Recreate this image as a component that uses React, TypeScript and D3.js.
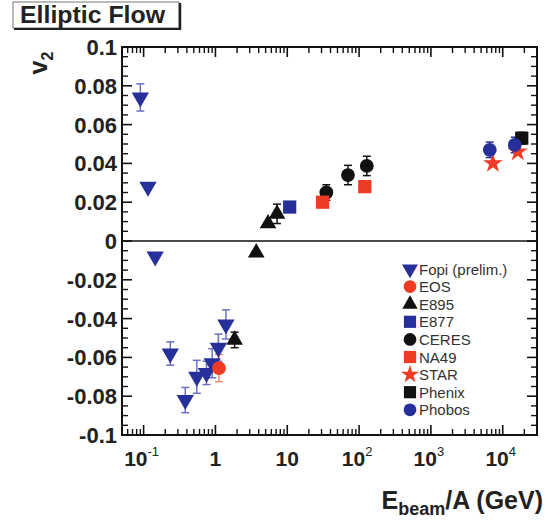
import React from "react";
import * as d3 from "d3";

// ---- data ----
const fopiE = [0.09, 0.115, 0.145, 0.235, 0.38, 0.55, 0.75, 0.9, 1.1, 1.4];
const fopiV = [0.074, 0.028, -0.008, -0.058, -0.082, -0.070, -0.068, -0.063, -0.055, -0.043];
const fopiErr = [0.007, 0, 0, 0.006, 0.0065, 0.0085, 0.006, 0.0075, 0.007, 0.0075];

const eosE = [1.12];
const eosV = [-0.0655];
const eosErr = [0.007];

const e895E = [1.85, 3.7, 5.4, 7.2];
const e895V = [-0.051, -0.006, 0.009, 0.014];
const e895Err = [0.004, 0, 0, 0.005];

const e877E = [10.8];
const e877V = [0.0175];
const e877Err = [0];

const ceresE = [35, 70, 128];
const ceresV = [0.025, 0.034, 0.0387];
const ceresErr = [0.004, 0.005, 0.005];

const na49E = [31, 120];
const na49V = [0.020, 0.028];
const na49Err = [0, 0];

const starE = [7300, 16200];
const starV = [0.040, 0.046];
const starErr = [0, 0];

const phenixE = [18400];
const phenixV = [0.053];
const phenixErr = [0.003];

const phobosE = [6600, 14700];
const phobosV = [0.047, 0.0495];
const phobosErr = [0.004, 0.004];

const legendLabels = ["Fopi (prelim.)", "EOS", "E895", "E877", "CERES", "NA49", "STAR", "Phenix", "Phobos"];
const yTickValues = [0.1, 0.08, 0.06, 0.04, 0.02, 0, -0.02, -0.04, -0.06, -0.08, -0.1];
const xDecades = [-1, 0, 1, 2, 3, 4];

const BLUE = "#27309a";
const RED = "#ef3a24";
const BLACK = "#111";
const ERRBLUE = "#6b70c4";

type Shape = "tdown" | "tup" | "circle" | "square" | "star";

export default function App() {
  const left = 122, right = 537, top = 47, bottom = 435;
  const x = d3.scaleLog().domain([0.05, 30000]).range([left, right]);
  const y = d3.scaleLinear().domain([-0.1, 0.1]).range([bottom, top]);

  const symPath = (shape: Shape, size: number) => {
    let t: any = d3.symbolCircle;
    if (shape === "tdown" || shape === "tup") t = d3.symbolTriangle;
    if (shape === "square") t = d3.symbolSquare;
    if (shape === "star") t = d3.symbolStar;
    return d3.symbol().type(t).size(size)() as string;
  };

  const shapeSize: Record<Shape, number> = { tdown: 130, tup: 120, circle: 150, square: 175, star: 120 };

  const series = [
    { name: "Fopi", E: fopiE, V: fopiV, err: fopiErr, shape: "tdown" as Shape, color: BLUE, ecol: ERRBLUE },
    { name: "E895", E: e895E, V: e895V, err: e895Err, shape: "tup" as Shape, color: BLACK, ecol: BLACK },
    { name: "EOS", E: eosE, V: eosV, err: eosErr, shape: "circle" as Shape, color: RED, ecol: "#f08a70" },
    { name: "E877", E: e877E, V: e877V, err: e877Err, shape: "square" as Shape, color: BLUE, ecol: BLUE },
    { name: "CERES", E: ceresE, V: ceresV, err: ceresErr, shape: "circle" as Shape, color: BLACK, ecol: BLACK },
    { name: "NA49", E: na49E, V: na49V, err: na49Err, shape: "square" as Shape, color: RED, ecol: RED },
    { name: "Phenix", E: phenixE, V: phenixV, err: phenixErr, shape: "square" as Shape, color: BLACK, ecol: BLACK },
    { name: "STAR", E: starE, V: starV, err: starErr, shape: "star" as Shape, color: RED, ecol: RED },
    { name: "Phobos", E: phobosE, V: phobosV, err: phobosErr, shape: "circle" as Shape, color: BLUE, ecol: BLUE },
  ];

  const legendShapes: { shape: Shape; color: string }[] = [
    { shape: "tdown", color: BLUE },
    { shape: "circle", color: RED },
    { shape: "tup", color: BLACK },
    { shape: "square", color: BLUE },
    { shape: "circle", color: BLACK },
    { shape: "square", color: RED },
    { shape: "star", color: RED },
    { shape: "square", color: BLACK },
    { shape: "circle", color: BLUE },
  ];

  const renderMarker = (shape: Shape, color: string, cx: number, cy: number, key: any, scale = 1) => (
    <path
      key={key}
      d={symPath(shape, shapeSize[shape] * scale)}
      transform={`translate(${cx},${cy})${shape === "tdown" ? " rotate(180)" : ""}`}
      fill={color}
    />
  );

  // ticks
  const xMinor: number[] = [];
  for (let d = -2; d <= 4; d++) {
    for (let m = 2; m <= 9; m++) {
      const v = m * Math.pow(10, d);
      if (v >= 0.05 && v <= 30000) xMinor.push(v);
    }
  }
  const yMinor = d3.range(-0.1, 0.1001, 0.005).filter((v) => Math.abs(Math.round(v * 1000) % 20) !== 0);

  const font = "'Liberation Sans', Arial, Helvetica, sans-serif";

  return (
    <svg width={546} height={521} style={{ position: "absolute", left: 0, top: 0, background: "#fff" }} fontFamily={font}>
      {/* title box */}
      <rect x={13} y={2} width={166} height={26} fill="#fff" stroke="#777" strokeWidth={1} />
      <line x1={180} y1={3} x2={180} y2={29.5} stroke="#222" strokeWidth={2.5} />
      <line x1={14} y1={29} x2={181} y2={29} stroke="#222" strokeWidth={2} />
      <text x={20} y={23} fontSize={23} fontWeight="bold" fill="#222" textLength={145} lengthAdjust="spacingAndGlyphs">Elliptic Flow</text>

      {/* y label */}
      <text transform="translate(47,63) rotate(-90)" textAnchor="middle" fontSize={25} fontWeight="bold" fill="#222">
        v<tspan fontSize={16} dy={6}>2</tspan>
      </text>

      {/* zero line */}
      <line x1={left} x2={right} y1={y(0)} y2={y(0)} stroke="#111" strokeWidth={1.6} />

      {/* ticks y */}
      {yTickValues.map((v, i) => (
        <g key={"yt" + i}>
          <line x1={left} x2={left + 10} y1={y(v)} y2={y(v)} stroke="#111" strokeWidth={1.6} />
          <line x1={right} x2={right - 10} y1={y(v)} y2={y(v)} stroke="#111" strokeWidth={1.6} />
          <text x={left - 5} y={y(v) + 8} textAnchor="end" fontSize={22} fontWeight="bold" fill="#222">
            {String(+v.toFixed(2))}
          </text>
        </g>
      ))}
      {yMinor.map((v, i) => (
        <g key={"ym" + i}>
          <line x1={left} x2={left + 6} y1={y(v)} y2={y(v)} stroke="#111" strokeWidth={1.4} />
          <line x1={right} x2={right - 6} y1={y(v)} y2={y(v)} stroke="#111" strokeWidth={1.4} />
        </g>
      ))}

      {/* ticks x */}
      {xDecades.map((d, i) => {
        const px = x(Math.pow(10, d));
        return (
          <g key={"xt" + i}>
            <line x1={px} x2={px} y1={bottom} y2={bottom - 10} stroke="#111" strokeWidth={1.6} />
            <line x1={px} x2={px} y1={top} y2={top + 10} stroke="#111" strokeWidth={1.6} />
            {d === 0 ? (
              <text x={px} y={466} textAnchor="middle" fontSize={21} fontWeight="bold" fill="#222">1</text>
            ) : d === 1 ? (
              <text x={px} y={466} textAnchor="middle" fontSize={21} fontWeight="bold" fill="#222">10</text>
            ) : (
              <text x={px - 2} y={466} textAnchor="middle" fontSize={21} fontWeight="bold" fill="#222">
                10<tspan fontSize={13} dy={-10} fontWeight="normal">{String(d)}</tspan>
              </text>
            )}
          </g>
        );
      })}
      {xMinor.map((v, i) => (
        <g key={"xm" + i}>
          <line x1={x(v)} x2={x(v)} y1={bottom} y2={bottom - 6} stroke="#111" strokeWidth={1.4} />
          <line x1={x(v)} x2={x(v)} y1={top} y2={top + 6} stroke="#111" strokeWidth={1.4} />
        </g>
      ))}

      {/* frame */}
      <rect x={left} y={top} width={right - left} height={bottom - top} fill="none" stroke="#111" strokeWidth={2} />

      {/* x label */}
      <text x={543} y={509} textAnchor="end" fontSize={25} fontWeight="bold" fill="#222">
        E<tspan fontSize={18} dy={6}>beam</tspan><tspan dy={-6}>/A (GeV)</tspan>
      </text>

      {/* error bars */}
      {series.map((s) =>
        s.E.map((e, i) =>
          s.err[i] > 0 ? (
            <g key={s.name + "e" + i} stroke={s.ecol} strokeWidth={1.5}>
              <line x1={x(e)} x2={x(e)} y1={y(s.V[i] - s.err[i])} y2={y(s.V[i] + s.err[i])} />
              <line x1={x(e) - 4} x2={x(e) + 4} y1={y(s.V[i] - s.err[i])} y2={y(s.V[i] - s.err[i])} />
              <line x1={x(e) - 4} x2={x(e) + 4} y1={y(s.V[i] + s.err[i])} y2={y(s.V[i] + s.err[i])} />
            </g>
          ) : null
        )
      )}
      {/* markers */}
      {series.map((s) => s.E.map((e, i) => renderMarker(s.shape, s.color, x(e), y(s.V[i]), s.name + i)))}

      {/* legend */}
      {legendLabels.map((l, i) => {
        const ly = 269 + i * 17.6;
        return (
          <g key={"lg" + i}>
            {renderMarker(legendShapes[i].shape, legendShapes[i].color, 410, ly, "lm" + i, 0.85)}
            <text x={419} y={ly + 5.5} fontSize={15} fill="#333">{l}</text>
          </g>
        );
      })}
    </svg>
  );
}
